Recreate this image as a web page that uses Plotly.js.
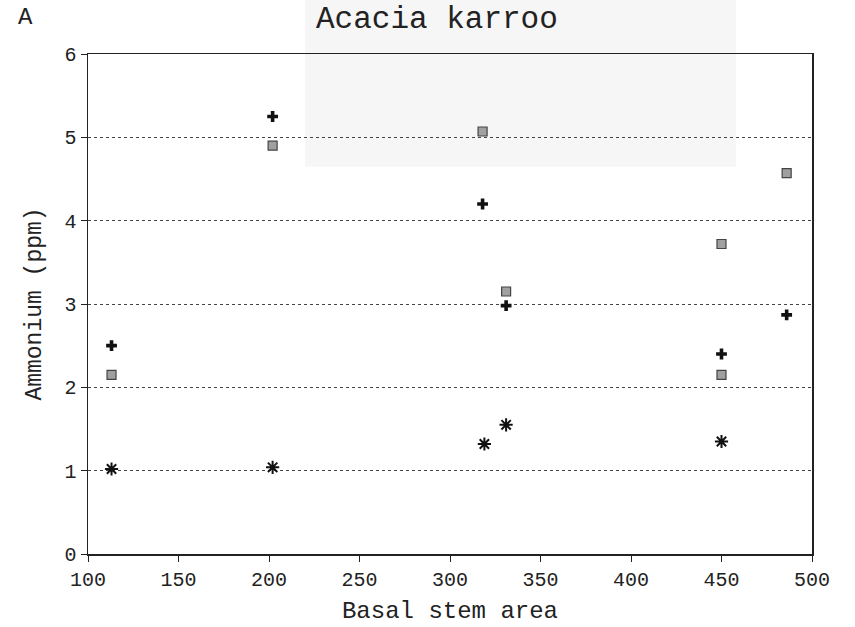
<!DOCTYPE html>
<html>
<head>
<meta charset="utf-8">
<script src="https://cdn.plot.ly/plotly-3.0.1.min.js"></script>
<style>html,body{margin:0;padding:0;background:#fff;}#chart{width:855px;height:627px;}</style>
</head>
<body>
<div id="chart"></div>
<script>
// Series 1: plus markers
const xPlus = [113, 202, 318, 331, 450, 486];
const yPlus = [2.50, 5.25, 4.20, 2.98, 2.40, 2.87];
// Series 2: hatched squares
const xHatch = [113, 202, 318, 331, 450, 450, 486];
const yHatch = [2.15, 4.90, 5.07, 3.15, 3.72, 2.15, 4.57];
// Series 3: asterisks
const xStar = [113, 202, 319, 331, 450];
const yStar = [1.02, 1.04, 1.32, 1.55, 1.35];

const xTicks = [100, 150, 200, 250, 300, 350, 400, 450, 500];
const yTicks = [0, 1, 2, 3, 4, 5, 6];

const fontFam = '"Liberation Mono", "DejaVu Sans Mono", monospace';

const traces = [
  {x: xHatch, y: yHatch, mode: 'markers', type: 'scatter',
   marker: {symbol: 'square', size: 9, color: '#a0a0a0', line: {color: '#444', width: 1.2}}},
  {x: xPlus, y: yPlus, mode: 'markers', type: 'scatter',
   marker: {symbol: 'cross', size: 9, color: '#111', line: {color: '#111', width: 0}}},
  {x: xStar, y: yStar, mode: 'markers', type: 'scatter',
   marker: {symbol: 'asterisk-open', size: 11, color: '#111', line: {color: '#111', width: 2}}}
];

const layout = {
  width: 855, height: 627,
  margin: {l: 88, r: 43, t: 54, b: 73},
  paper_bgcolor: '#fff', plot_bgcolor: 'rgba(0,0,0,0)',
  showlegend: false,
  font: {family: fontFam, color: '#222', size: 20},
  title: {text: 'Acacia karroo', x: 0.511, xanchor: 'center', y: 0.972, yanchor: 'middle',
          font: {family: fontFam, size: 31, color: '#222'}},
  annotations: [{text: 'A', xref: 'paper', yref: 'paper', x: -0.1, y: 1.072, xanchor: 'left', yanchor: 'middle',
                 showarrow: false, font: {family: fontFam, size: 24, color: '#222'}}],
  shapes: [{type: 'rect', xref: 'paper', yref: 'paper', x0: 0.3, x1: 0.895, y0: 0.775, y1: 1.11,
            fillcolor: '#f6f6f6', line: {width: 0}, layer: 'below'}],
  xaxis: {
    range: [100, 500], tickvals: xTicks, ticks: 'outside', ticklen: 6, tickcolor: '#222',
    showline: true, linecolor: '#222', linewidth: 1.5, mirror: true, showgrid: false, zeroline: false,
    tickfont: {family: fontFam, size: 20, color: '#222'},
    title: {text: 'Basal stem area', standoff: 10, font: {family: fontFam, size: 24, color: '#222'}}
  },
  yaxis: {
    range: [0, 6], tickvals: yTicks, ticks: 'outside', ticklen: 6, tickcolor: '#222',
    showline: true, linecolor: '#222', linewidth: 1.5, mirror: true, zeroline: false,
    showgrid: true, gridcolor: '#444', griddash: 'dot', gridwidth: 1,
    tickfont: {family: fontFam, size: 20, color: '#222'},
    title: {text: 'Ammonium (ppm)', standoff: 16, font: {family: fontFam, size: 23, color: '#222'}}
  }
};

Plotly.newPlot('chart', traces, layout, {displayModeBar: false, staticPlot: true});
</script>
</body>
</html>
